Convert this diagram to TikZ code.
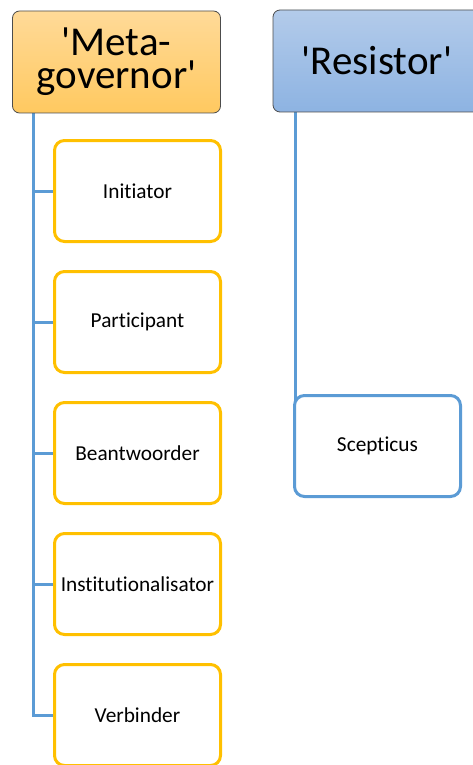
\documentclass[tikz,border=0pt]{standalone}
\usepackage{fontspec}
\setmainfont{Carlito}[Ligatures={TeXOff,NoCommon,NoRequired,NoContextual}]
\usetikzlibrary{backgrounds}
\definecolor{orangeline}{HTML}{FFC000}
\definecolor{blueline}{HTML}{5B9BD5}
\definecolor{metatop}{HTML}{FFDA98}
\definecolor{metabot}{HTML}{FFC960}
\definecolor{restop}{HTML}{B3CBEA}
\definecolor{resbot}{HTML}{8DB3E2}
\tikzset{
  header/.style={draw=black!70, line width=0.8pt, rounded corners=7pt,
    minimum width=208pt, minimum height=102pt, inner sep=0pt, align=center,
    font=\fontsize{41}{33}\selectfont},
  metabox/.style={header, top color=metatop, bottom color=metabot},
  resbox/.style={header, top color=restop, bottom color=resbot},
  rolebox/.style={draw=orangeline, line width=3pt, fill=white, rounded corners=10pt,
    minimum width=166pt, minimum height=101pt, inner sep=0pt,
    font=\fontsize{21.3}{24}\selectfont},
  scepbox/.style={rolebox, draw=blueline},
  conn/.style={draw=blueline, line width=3pt}
}
\begin{document}
\begin{tikzpicture}[x=1pt,y=-1pt]
\useasboundingbox (0,0) rectangle (473,765);
\node[metabox] (meta) at (116.5,62) {'Meta-\\governor'};
\node[resbox] (res) at (377,61) {'Resistor'};
\node[rolebox] (b1) at (137.5,191) {Initiator};
\node[rolebox] (b2) at (137.5,322) {Participant};
\node[rolebox] (b3) at (137.5,453) {Beantwoorder};
\node[rolebox] (b4) at (137.5,584) {Institutionalisator};
\node[rolebox] (b5) at (137.5,715) {Verbinder};
\node[scepbox] (scep) at (377.5,446) {Scepticus};
\coordinate (trunk) at (33.5,112);
\coordinate (rtrunk) at (295,112);
\begin{scope}[on background layer]
\draw[conn] (trunk) |- (b5.west);
\draw[conn] (trunk) |- (b1.west);
\draw[conn] (trunk) |- (b2.west);
\draw[conn] (trunk) |- (b3.west);
\draw[conn] (trunk) |- (b4.west);
\draw[conn] (rtrunk) |- (scep.west);
\end{scope}
\end{tikzpicture}
\end{document}
